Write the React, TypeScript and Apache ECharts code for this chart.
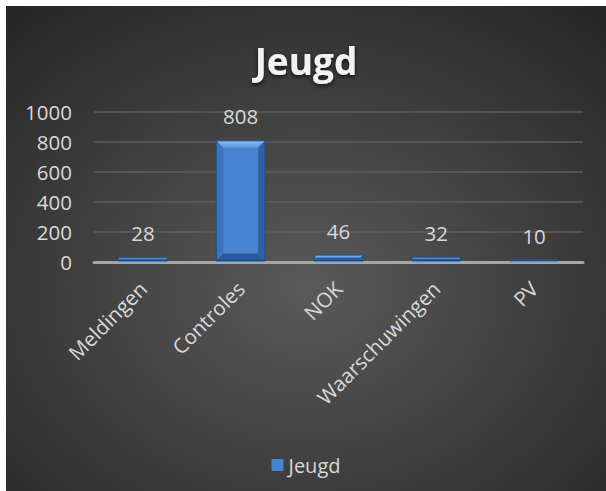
import React, { useEffect, useRef } from "react";
import * as echarts from "echarts";

const categories = ["Meldingen", "Controles", "NOK", "Waarschuwingen", "PV"];
const values = [28, 808, 46, 32, 10];
const seriesName = "Jeugd";
const titleText = "Jeugd";

export default function App() {
  const ref = useRef<HTMLDivElement>(null);
  useEffect(() => {
    if (!ref.current) return;
    const chart = echarts.init(ref.current, undefined, { renderer: "svg" });
    const font = "'Open Sans', 'Noto Sans', sans-serif";
    const txt = "#d9d9d9";
    const barFrac = 0.5;
    chart.setOption({
      animation: false,
      backgroundColor: {
        type: "radial",
        x: 0.5,
        y: 0.58,
        r: 0.75,
        colorStops: [
          { offset: 0, color: "#5a5a5a" },
          { offset: 1, color: "#262626" },
        ],
      },
      textStyle: { fontFamily: font },
      title: {
        text: titleText,
        left: "center",
        top: 31,
        textStyle: {
          color: "#f2f2f2",
          fontSize: 37,
          fontWeight: "bold",
          fontFamily: font,
          textShadowColor: "rgba(0,0,0,0.7)",
          textShadowBlur: 4,
          textShadowOffsetY: 2,
        },
      },
      legend: {
        data: [seriesName],
        left: "center",
        top: 444,
        icon: "rect",
        itemWidth: 12,
        itemHeight: 12,
        itemGap: 6,
        textStyle: { color: txt, fontSize: 20, fontFamily: font },
      },
      grid: { left: 88, right: 23, top: 106, bottom: 229, containLabel: false },
      xAxis: {
        type: "category",
        data: categories,
        axisLine: { show: true, lineStyle: { color: "#a6a6a6", width: 3 } },
        axisTick: { show: false },
        axisLabel: {
          rotate: 45,
          color: txt,
          fontSize: 20.5,
          fontFamily: font,
          margin: 23,
          interval: 0,
        },
      },
      yAxis: {
        type: "value",
        min: 0,
        max: 1000,
        interval: 200,
        axisLine: { show: false },
        axisTick: { show: false },
        splitLine: { lineStyle: { color: "#5e5e5e", width: 1.5 } },
        axisLabel: {
          color: txt,
          fontSize: 20.5,
          fontFamily: font,
          margin: 22,
          formatter: (v: number) => String(v),
        },
      },
      series: [
        {
          name: seriesName,
          type: "bar",
          data: values,
          barWidth: barFrac * 100 + "%",
          itemStyle: { color: "#4683d0" },
          label: {
            show: true,
            position: "top",
            distance: 14,
            color: txt,
            fontSize: 20.5,
            fontFamily: font,
          },
          z: 2,
        },
        {
          name: "bevel",
          type: "custom",
          silent: true,
          z: 3,
          data: values.map((v, i) => [i, v]),
          encode: { x: 0, y: 1 },
          renderItem: (params: any, api: any) => {
            const idx = api.value(0);
            const v = api.value(1);
            const top = api.coord([idx, v]);
            const base = api.coord([idx, 0]);
            const w = api.size([1, 0])[0] * barFrac;
            const x0 = top[0] - w / 2;
            const x1 = top[0] + w / 2;
            const y0 = top[1];
            const y1 = base[1] - 1.5;
            const h = y1 - y0;
            const b = Math.max(1, Math.min(7, h / 2, w / 4));
            return {
              type: "group",
              children: [
                {
                  type: "polygon",
                  shape: { points: [[x0, y0], [x1, y0], [x1 - b, y0 + b], [x0 + b, y0 + b]] },
                  style: {
                    fill: {
                      type: "linear", x: 0, y: 0, x2: 0, y2: 1,
                      colorStops: [
                        { offset: 0, color: "#8dbcf2" },
                        { offset: 1, color: "#5b95dc" },
                      ],
                    },
                  },
                },
                {
                  type: "polygon",
                  shape: { points: [[x0, y0], [x0 + b, y0 + b], [x0 + b, y1 - b], [x0, y1]] },
                  style: { fill: "#3b74bd" },
                },
                {
                  type: "polygon",
                  shape: { points: [[x1, y0], [x1, y1], [x1 - b, y1 - b], [x1 - b, y0 + b]] },
                  style: { fill: "#2f609f" },
                },
                {
                  type: "polygon",
                  shape: { points: [[x0, y1], [x1, y1], [x1 - b, y1 - b], [x0 + b, y1 - b]] },
                  style: { fill: "#2c5a96" },
                },
                {
                  type: "rect",
                  shape: { x: x0, y: y0, width: w, height: h },
                  style: { fill: "none", stroke: "#1f4a82", lineWidth: 1 },
                },
              ],
            };
          },
        },
      ],
    });
    return () => chart.dispose();
  }, []);
  return (
    <div
      ref={ref}
      style={{ position: "absolute", left: 6, top: 6, width: 600, height: 485 }}
    />
  );
}
